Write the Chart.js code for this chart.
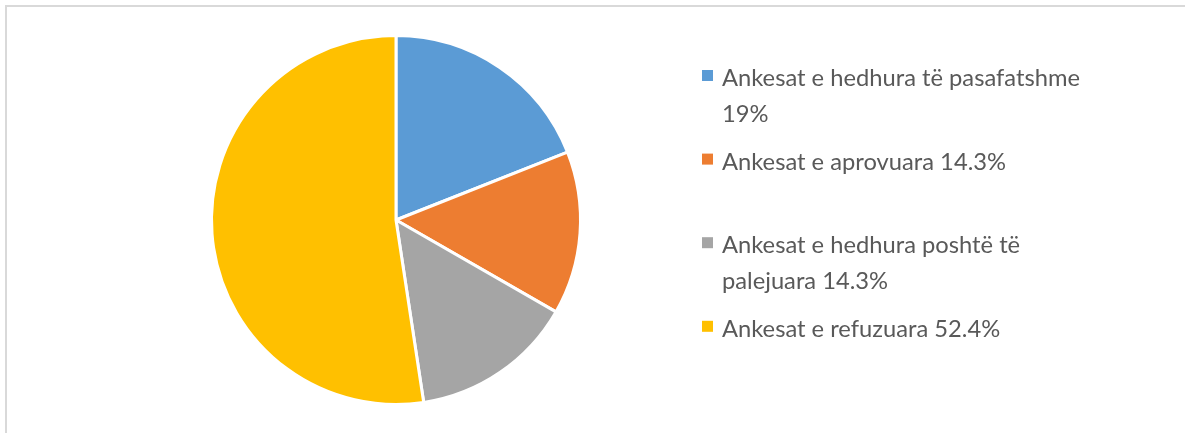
<!DOCTYPE html>
<html>
<head>
<meta charset="utf-8">
<script src="https://cdn.jsdelivr.net/npm/chart.js@4.4.0/dist/chart.umd.min.js"></script>
<style>
  html, body { margin: 0; padding: 0; background: #ffffff; }
  #wrap { position: relative; width: 1185px; height: 433px; overflow: hidden; }
  #frame {
    position: absolute; left: 5px; top: 5px; width: 1185px; height: 440px;
    border-top: 2px solid #d9d9d9; border-left: 2px solid #d9d9d9;
  }
  #pieChart { position: absolute; left: 0; top: 0; }
</style>
</head>
<body>
<div id="wrap">
  <div id="frame"></div>
  <canvas id="pieChart" width="1185" height="433"></canvas>
</div>
<script>
const categories = [
    "Ankesat e hedhura të pasafatshme",
    "Ankesat e aprovuara",
    "Ankesat e hedhura poshtë të palejuara",
    "Ankesat e refuzuara"
];
const percentLabels = ["19%", "14.3%", "14.3%", "52.4%"];
const shares = [19, 14.3, 14.3, 52.4];
const sliceColors = ["#5b9bd5", "#ed7d31", "#a5a5a5", "#ffc000"];

const legendFont = "'Liberation Sans Narrow', Lato, sans-serif";
const legendColor = "#595959";

// greedy word wrap for legend entries
function wrapText(ctx, text, maxWidth) {
    const words = text.split(" ");
    const lines = [];
    let line = "";
    words.forEach(function (w) {
        const test = line ? line + " " + w : w;
        if (line && ctx.measureText(test).width > maxWidth) {
            lines.push(line);
            line = w;
        } else {
            line = test;
        }
    });
    if (line) lines.push(line);
    return lines;
}

const sideLegend = {
    id: "sideLegend",
    afterDraw(chart) {
        const ctx = chart.ctx;
        const labels = chart.data.labels;
        const colors = chart.data.datasets[0].backgroundColor;

        // fit font size so the first label has the width seen in the picture
        ctx.save();
        ctx.font = "100px " + legendFont;
        const w100 = ctx.measureText(labels[0]).width;
        const size = 100 * 358 / w100;
        ctx.font = size + "px " + legendFont;
        ctx.fillStyle = legendColor;
        ctx.textBaseline = "alphabetic";
        ctx.textAlign = "left";

        const slots = [0, 2, 4, 6];
        labels.forEach(function (lab, i) {
            const lines = wrapText(ctx, lab + " " + percentLabels[i], 366);
            const base = 86 + slots[i] * 41.8;
            ctx.fillStyle = colors[i];
            ctx.fillRect(702, base - 16, 11, 11);
            ctx.fillStyle = legendColor;
            lines.forEach(function (ln, j) {
                ctx.fillText(ln, 722, base + j * 35.7);
            });
        });
        ctx.restore();
    }
};

const ctx = document.getElementById("pieChart");

new Chart(ctx, {
    type: "pie",
    data: {
        labels: categories,
        datasets: [
            {
                data: shares,
                backgroundColor: sliceColors,
                borderColor: "#ffffff",
                borderWidth: 3,
                hoverOffset: 0
            }
        ]
    },
    options: {
        responsive: false,
        animation: false,
        devicePixelRatio: 1,
        layout: {
            padding: { left: 210, top: 34, right: 603, bottom: 27 }
        },
        plugins: {
            legend: { display: false },
            tooltip: { enabled: false }
        }
    },
    plugins: [sideLegend]
});
</script>
</body>
</html>
